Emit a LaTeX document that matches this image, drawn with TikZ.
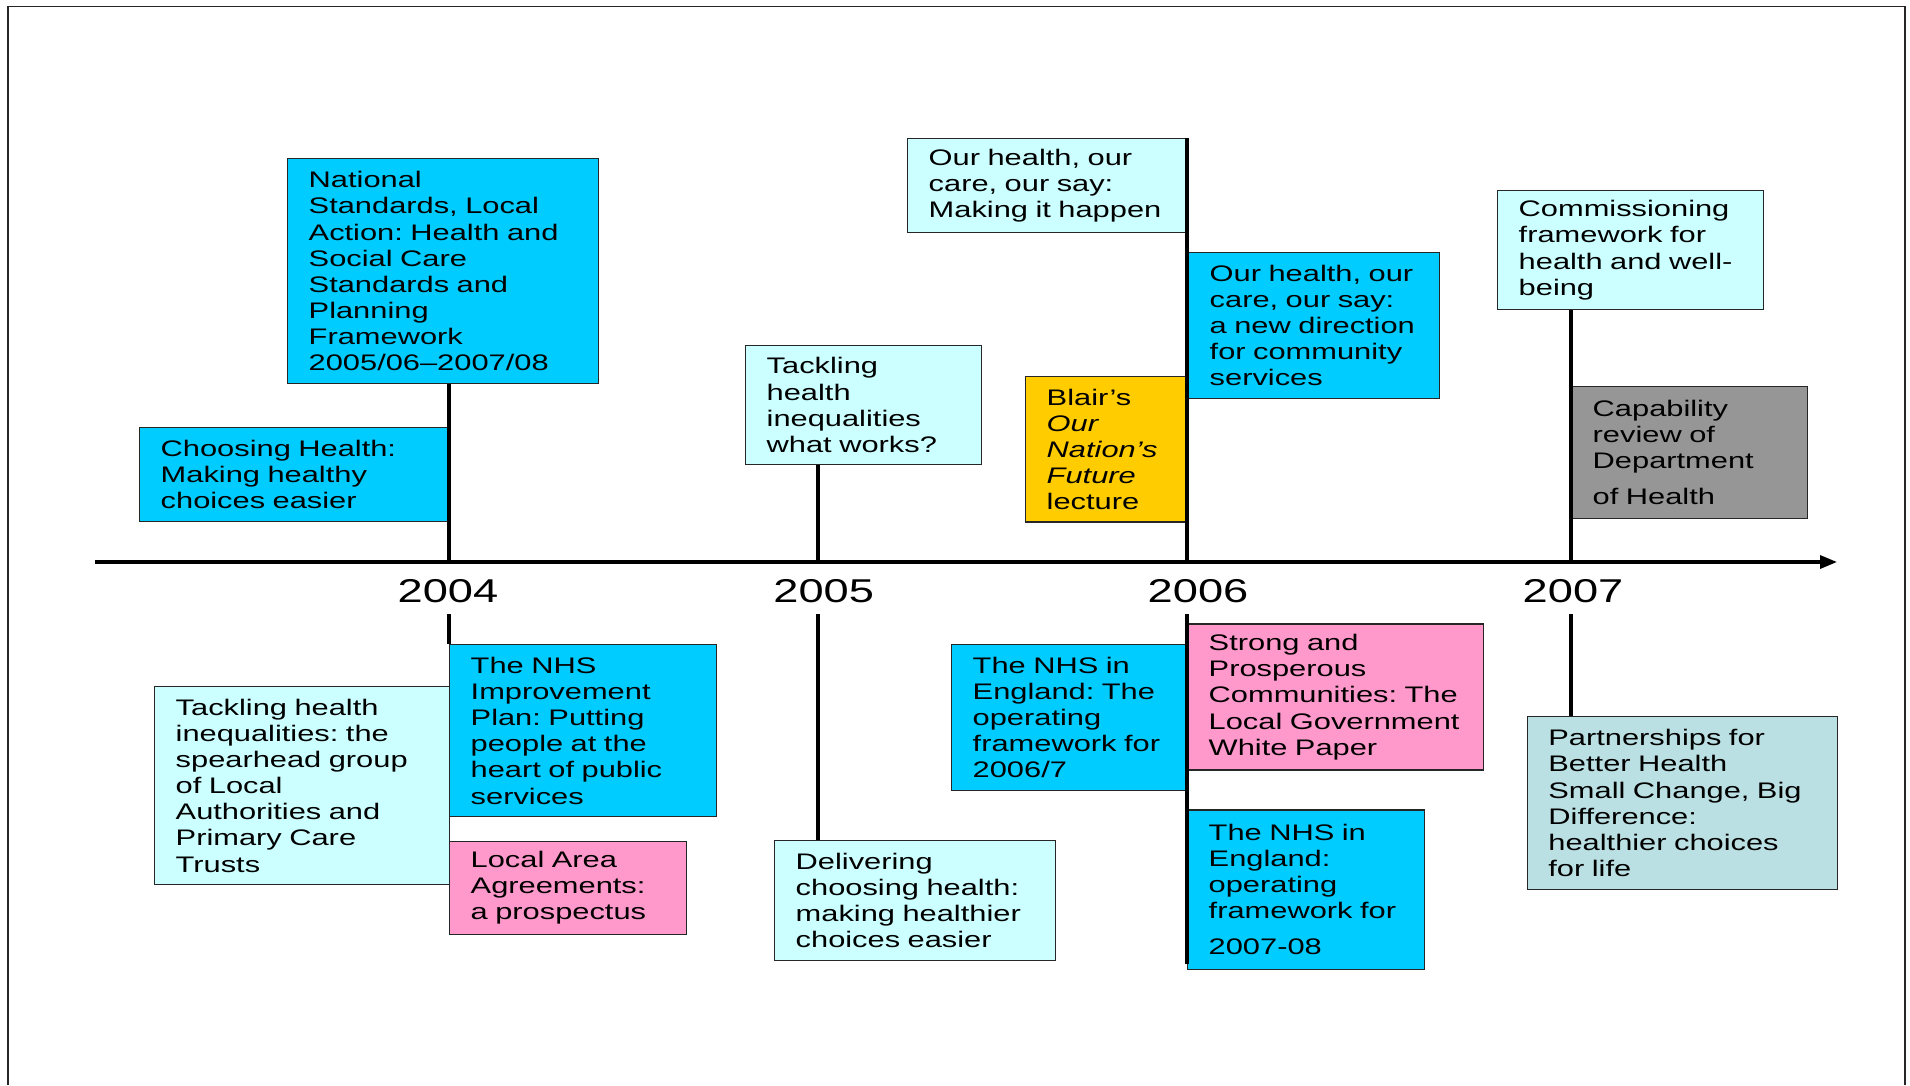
\documentclass[tikz,border=0pt]{standalone}
\usepackage{fontspec}
\setmainfont{Liberation Sans}[FakeStretch=1.37]
\newfontfamily\tlsans{Liberation Sans}[FakeStretch=1.37]
\usetikzlibrary{arrows.meta}
\definecolor{cblue}{HTML}{00CCFF}
\definecolor{clight}{HTML}{CCFFFF}
\definecolor{cpink}{HTML}{FF99CC}
\definecolor{cgold}{HTML}{FFCC00}
\definecolor{cgrey}{HTML}{969696}
\definecolor{cteal}{HTML}{BBE0E3}
\newcommand\tlboxfont{\tlsans\fontsize{22.5}{26.1}\selectfont}
\newcommand\tlyearfont{\tlsans\fontsize{33}{40}\selectfont}
\begin{document}
\begin{tikzpicture}[x=1pt,y=-1pt,
  box/.style={draw=black!85, line width=1.4pt, anchor=north west, align=left,
    inner xsep=21pt, inner ysep=2pt, font=\tlboxfont, text=black},
  tick/.style={line width=3.3pt, draw=black},
  axisline/.style={line width=3.3pt, draw=black},
  year/.style={font=\tlyearfont, anchor=base, inner sep=0pt},
  frameline/.style={line width=1.5pt, draw=black!85}]
\useasboundingbox (0,0) rectangle (1910,1085);
% frame
\draw[frameline] (8,1085) -- (8,6.4) -- (1905,6.4) -- (1905,1085);
% axis coordinates
\coordinate (ax0) at (95,562);
\coordinate (ax1) at (1837,562);
\coordinate (t4) at (449,562);
\coordinate (t5) at (818,562);
\coordinate (t6) at (1187,562);
\coordinate (t7) at (1571,562);
\coordinate (b4) at (449,614);
\coordinate (b5) at (818,614);
\coordinate (b6) at (1187,614);
\coordinate (b7) at (1571,614);
\coordinate (e6) at (1187,964);
% year labels
\node[year] (y2004) at (448,602) {2004};
\node[year] (y2005) at (823.7,602) {2005};
\node[year] (y2006) at (1198,602) {2006};
\node[year] (y2007) at (1573,602) {2007};
% upper boxes
\node[box, fill=cblue, text width=269pt, minimum height=225pt] (nsla) at (287,158)
 {National\\Standards,~Local\\Action:~Health~and\\Social~Care\\Standards~and\\Planning\\Framework\\2005/06–2007/08};
\node[box, fill=cblue, text width=268pt, minimum height=94pt] (chs) at (139,427)
 {Choosing~Health:\\Making~healthy\\choices~easier};
\node[box, fill=clight, text width=194pt, minimum height=119.4pt] (thww) at (745,344.6)
 {Tackling\\health\\inequalities\\what~works?};
\node[box, fill=clight, text width=239pt, minimum height=93.5pt] (mih) at (907,138)
 {Our~health,~our\\care,~our~say:\\Making~it~happen};
\node[box, fill=cblue, text width=209pt, minimum height=145.5pt] (ndir) at (1188,252)
 {Our~health,~our\\care,~our~say:\\a~new~direction\\for~community\\services};
\node[box, fill=cgold, text width=120pt, minimum height=145.7pt] (blair) at (1025,375.7)
 {Blair’s\\\textit{Our}\\\textit{Nation’s}\\\textit{Future}\\lecture};
\node[box, fill=clight, text width=224pt, minimum height=119pt] (comm) at (1497,190)
 {Commissioning\\framework~for\\health~and~well-\\being};
\node[box, fill=cgrey, text width=194pt, minimum height=132pt] (capa) at (1571,386)
 {Capability\\review~of\\Department\\[10pt]of~Health};
% lower boxes
\node[box, fill=clight, text width=253pt, minimum height=198pt] (spear) at (154,686)
 {Tackling~health\\inequalities:~the\\spearhead~group\\of~Local\\Authorities~and\\Primary~Care\\Trusts};
\node[box, fill=cblue, text width=224.5pt, minimum height=172pt] (nhsip) at (449,644)
 {The~NHS\\Improvement\\Plan:~Putting\\people~at~the\\heart~of~public\\services};
\node[box, fill=cpink, text width=194.7pt, minimum height=92.8pt] (laa) at (449,840.7)
 {Local~Area\\Agreements:\\a~prospectus};
\node[box, fill=clight, text width=238.7pt, minimum height=120pt] (deliv) at (774,840)
 {Delivering\\choosing~health:\\making~healthier\\choices~easier};
\node[box, fill=cblue, text width=194pt, minimum height=145.6pt] (nhs67) at (951,644)
 {The~NHS~in\\England:~The\\operating\\framework~for\\2006/7};
\node[box, fill=cpink, text width=254pt, minimum height=146pt] (strong) at (1187,623.4)
 {Strong~and\\Prosperous\\Communities:~The\\Local~Government\\White~Paper};
\node[box, fill=cblue, text width=195pt, minimum height=159.2pt] (nhs78) at (1187,809.4)
 {The~NHS~in\\England:\\operating\\framework~for\\[10pt]2007-08};
\node[box, fill=cteal, text width=268.3pt, minimum height=172.6pt] (pbh) at (1526.7,716)
 {Partnerships~for\\Better~Health\\Small~Change,~Big\\Difference:\\healthier~choices\\for~life};
% axis
\draw[axisline, -{Triangle[length=17pt,width=13pt]}] (ax0) -- (ax1);
% upper ticks
\draw[tick] (nsla.south -| t4) -- (t4);
\draw[tick] (thww.south -| t5) -- (t5);
\draw[tick] (mih.north -| t6) -- (t6);
\draw[tick] (comm.south -| t7) -- (t7);
% lower ticks
\draw[tick] (b4) -- (nhsip.north -| b4);
\draw[tick] (b5) -- (deliv.north -| b5);
\draw[tick] (b6) -- (e6);
\draw[tick] (b7) -- (pbh.north -| b7);
\end{tikzpicture}
\end{document}
